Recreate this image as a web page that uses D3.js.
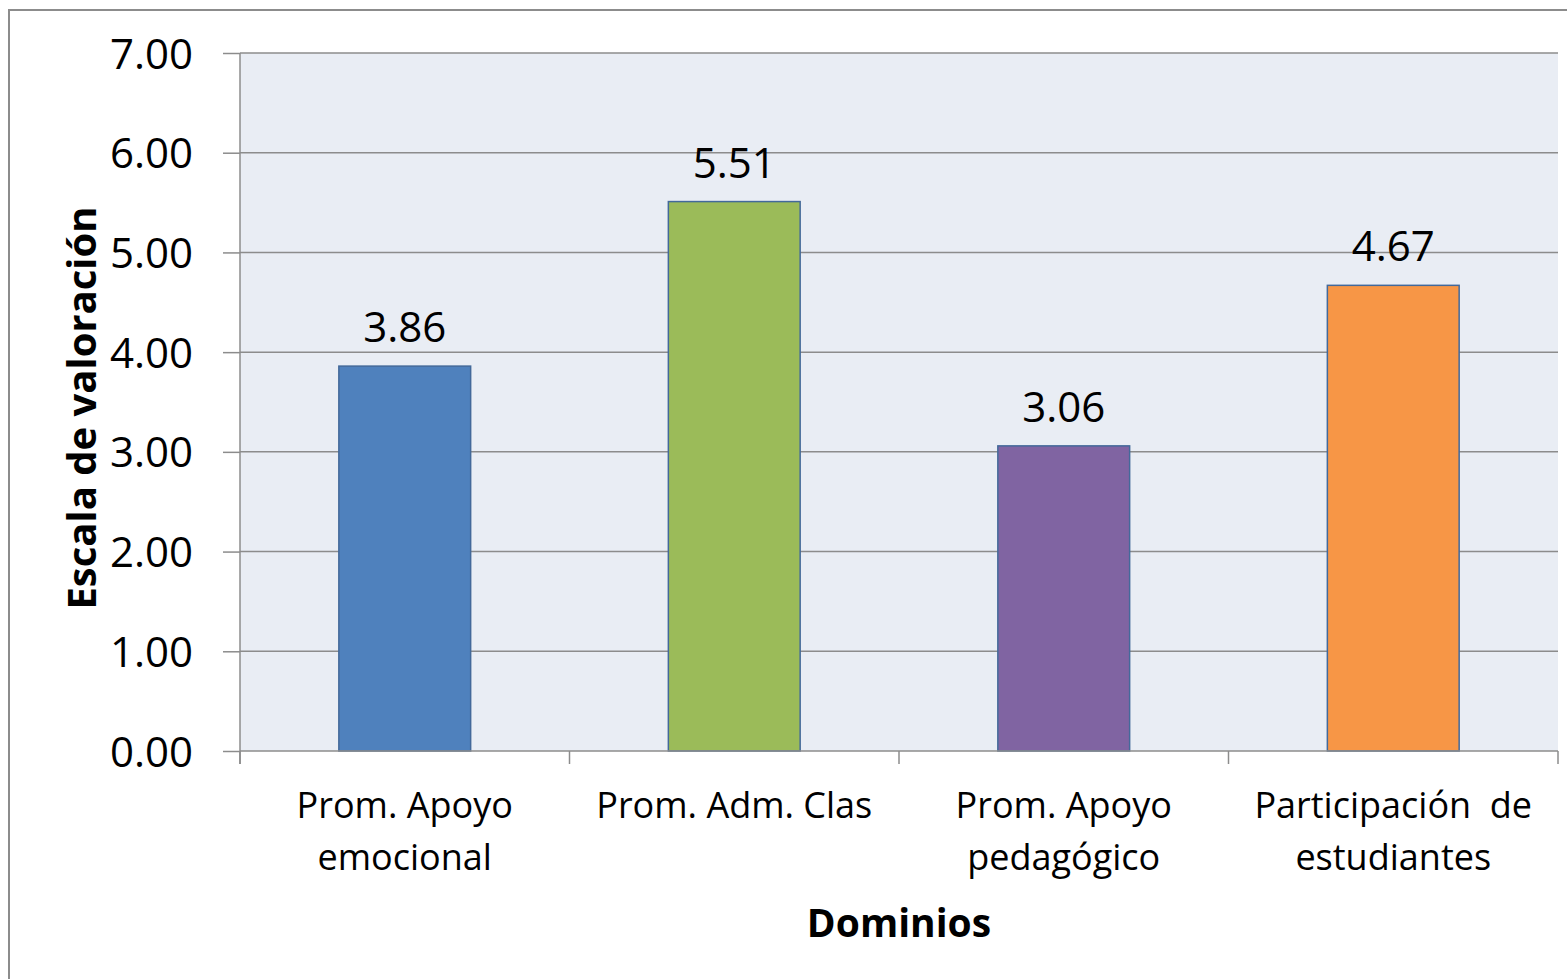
<!DOCTYPE html>
<html>
<head>
<meta charset="utf-8">
<script src="https://cdn.jsdelivr.net/npm/d3@7"></script>
<style>
  body { margin: 0; background: #fff; }
  svg { display: block; font-family: "Open Sans", sans-serif; }
</style>
</head>
<body>
<svg class="chart" width="1567" height="979"></svg>
<script>
const categories = [
  "Prom. Apoyo emocional",
  "Prom. Adm. Clas",
  "Prom. Apoyo pedagógico",
  "Participación  de estudiantes",
];
// line breaks as shown under each bar
const categoryLines = [
  ["Prom. Apoyo", "emocional"],
  ["Prom. Adm. Clas"],
  ["Prom. Apoyo", "pedagógico"],
  ["Participación  de", "estudiantes"],
];
const values = [3.86, 5.51, 3.06, 4.67];
const barColors = ["#4F81BD", "#9BBB59", "#8064A2", "#F79646"];
const yTicks = [0, 1, 2, 3, 4, 5, 6, 7];

const margin = { top: 53, right: 9, bottom: 228, left: 240 };
const W = 1567, H = 979;
const width = W - margin.left - margin.right;
const height = H - margin.top - margin.bottom;

const svg = d3.select(".chart");

// outer chart border (right/bottom edges fall outside the picture)
svg.append("rect")
  .attr("x", 9).attr("y", 10)
  .attr("width", 1600).attr("height", 1000)
  .attr("fill", "#fff")
  .attr("stroke", "#8c8c8c")
  .attr("stroke-width", 2);

const g = svg.append("g").attr("transform", `translate(${margin.left},${margin.top})`);

const x = d3.scaleBand().domain(categories).range([0, width]).padding(0);
const y = d3.scaleLinear().domain([0, 7]).range([height, 0]);

// plot background
g.append("rect")
  .attr("width", width).attr("height", height)
  .attr("fill", "#E9EDF4");

// horizontal grid lines
g.selectAll(".grid")
  .data(yTicks.filter((d) => d > 0))
  .join("line")
  .attr("class", "grid")
  .attr("x1", 0).attr("x2", width)
  .attr("y1", (d) => y(d)).attr("y2", (d) => y(d))
  .attr("stroke", "#8c8c8c")
  .attr("stroke-width", 1.5);

// bars
const bw = x.bandwidth() * 0.4;
g.selectAll(".bar")
  .data(values)
  .join("rect")
  .attr("class", "bar")
  .attr("x", (d, i) => x(categories[i]) + (x.bandwidth() - bw) / 2)
  .attr("y", (d) => y(d))
  .attr("width", bw)
  .attr("height", (d) => y(0) - y(d))
  .attr("fill", (d, i) => barColors[i])
  .attr("stroke", "#43699A")
  .attr("stroke-width", 1.5);

// value labels
g.selectAll(".val")
  .data(values)
  .join("text")
  .attr("class", "val")
  .attr("x", (d, i) => x(categories[i]) + x.bandwidth() / 2)
  .attr("y", (d) => y(d) - 24)
  .attr("text-anchor", "middle")
  .attr("font-size", 42)
  .attr("fill", "#000")
  .text((d) => d.toFixed(2));

// y axis
const yAxis = g.append("g")
  .call(d3.axisLeft(y).tickValues(yTicks).tickFormat(d3.format(".2f")).tickSize(17).tickSizeOuter(0).tickPadding(30));
yAxis.select(".domain").remove();
yAxis.selectAll(".tick line").attr("stroke", "#8c8c8c").attr("stroke-width", 1.5);
yAxis.selectAll(".tick text")
  .attr("font-size", 42)
  .attr("font-family", "Open Sans, sans-serif")
  .attr("fill", "#000")
  .attr("dy", "0.36em");
g.append("line")
  .attr("x1", 0).attr("x2", 0)
  .attr("y1", 0).attr("y2", height + 13)
  .attr("stroke", "#8c8c8c").attr("stroke-width", 1.5);

// x axis line and category boundary ticks
g.append("line")
  .attr("x1", 0).attr("x2", width)
  .attr("y1", height).attr("y2", height)
  .attr("stroke", "#8c8c8c").attr("stroke-width", 1.5);
const bounds = categories.map((c) => x(c)).concat([width]);
g.selectAll(".xtick")
  .data(bounds)
  .join("line")
  .attr("class", "xtick")
  .attr("x1", (d) => d).attr("x2", (d) => d)
  .attr("y1", height).attr("y2", height + 13)
  .attr("stroke", "#8c8c8c").attr("stroke-width", 1.5);

// category labels
const cat = g.selectAll(".cat")
  .data(categoryLines)
  .join("text")
  .attr("class", "cat")
  .attr("text-anchor", "middle")
  .attr("font-size", 36)
  .attr("fill", "#000")
  .style("white-space", "pre");
cat.selectAll("tspan")
  .data((d, i) => d.map((t) => ({ t, i })))
  .join("tspan")
  .attr("x", (d) => x(categories[d.i]) + x.bandwidth() / 2)
  .attr("y", (d, j) => height + 67 + j * 52)
  .text((d) => d.t);

// axis titles
svg.append("text")
  .attr("x", 899).attr("y", 937)
  .attr("text-anchor", "middle")
  .attr("font-size", 39)
  .attr("font-weight", "bold")
  .text("Dominios");

svg.append("text")
  .attr("transform", `translate(96,${margin.top + height / 2 + 6}) rotate(-90)`)
  .attr("text-anchor", "middle")
  .attr("font-size", 40)
  .attr("font-weight", "bold")
  .text("Escala de valoración");
</script>
</body>
</html>
